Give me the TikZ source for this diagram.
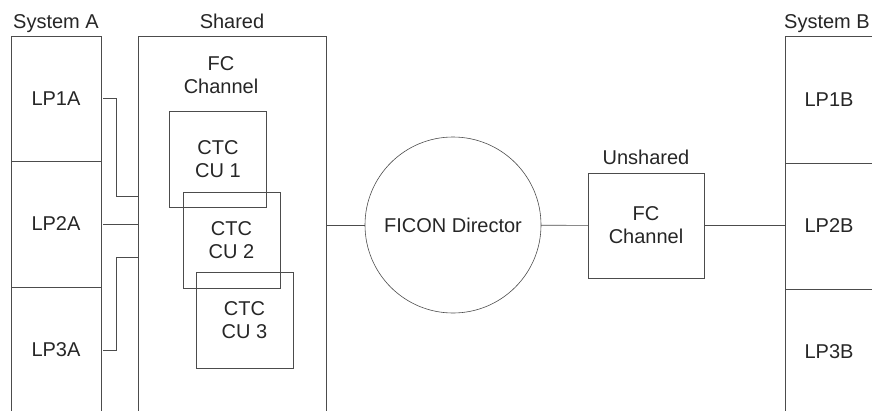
\documentclass[tikz,border=0pt]{standalone}
\usepackage{fontspec}
\setmainfont{Liberation Sans}
\usetikzlibrary{positioning}

\begin{document}
\begin{tikzpicture} [
            x=1pt, y=-1pt,
            every node/.style={font=\fontsize{20}{23}\selectfont, text=black!85, align=center, outer sep=0pt},
            box/.style={draw=black!70, line width=0.6pt, inner sep=0pt},
            lpbox/.style={box, minimum width=90pt, minimum height=126pt},
            lpboxb/.style={box, minimum width=88pt, minimum height=126pt},
            ctc/.style={box, minimum width=97pt, minimum height=96pt},
            title/.style={inner sep=0pt, text depth=0pt},
            wire/.style={draw=black!70, line width=0.6pt}
        ]
        \useasboundingbox (0,0) rectangle (872,410);
        % system A
        \node[lpbox, minimum height=125pt] (lp1a) at (56,98.5) {LP1A};
        \node[lpbox, below=0pt of lp1a] (lp2a) {LP2A};
        \node[lpbox, below=0pt of lp2a] (lp3a) {LP3A};
        \node[title, above=8pt of lp1a] (sysa) {System A};
        % shared channel
        \node[box, minimum width=188pt, minimum height=378pt] (shared) at (232,225) {};
        \node[title, above=8pt of shared] (sharedlbl) {Shared};
        \node (fcs) at (221,75) {FC\\Channel};
        \node[ctc] (cu1) at (218,159.5) {CTC\\CU 1};
        \node[ctc] (cu2) at (231.5,240) {CTC\\CU 2};
        \node[ctc] (cu3) at (244.5,320) {CTC\\CU 3};
        % director and unshared channel
        \node[box, circle, minimum size=176pt] (ficon) at (453,225) {FICON Director};
        \node[box, minimum width=116pt, minimum height=105pt] (fcu) at (646,225.5) {FC\\Channel};
        \node[title, above=9pt of fcu] (unsharedlbl) {Unshared};
        % system B
        \node[lpboxb, minimum height=127pt] (lp1b) at (829,99.5) {LP1B};
        \node[lpboxb, below=0pt of lp1b] (lp2b) {LP2B};
        \node[lpboxb, below=0pt of lp2b] (lp3b) {LP3B};
        \node[title, above=8pt of lp1b, xshift=-2pt] (sysb) {System B};

        \draw[wire, shorten <=2pt] (lp1a.east) -- ++(15,0) |- ([yshift=29pt]shared.west);
        \draw[wire, shorten <=2pt] (lp2a.east) -- (lp2a.east -| shared.west);
        \draw[wire, shorten <=2pt] (lp3a.east) -- ++(15,0) |- ([yshift=-32pt]shared.west);
        \draw[wire] (shared.east) -- (ficon);
        \draw[wire] (ficon) -- (fcu);
        \draw[wire] (fcu.east) -- (fcu.east -| lp2b.west);
    \end{tikzpicture}
\end{document}
